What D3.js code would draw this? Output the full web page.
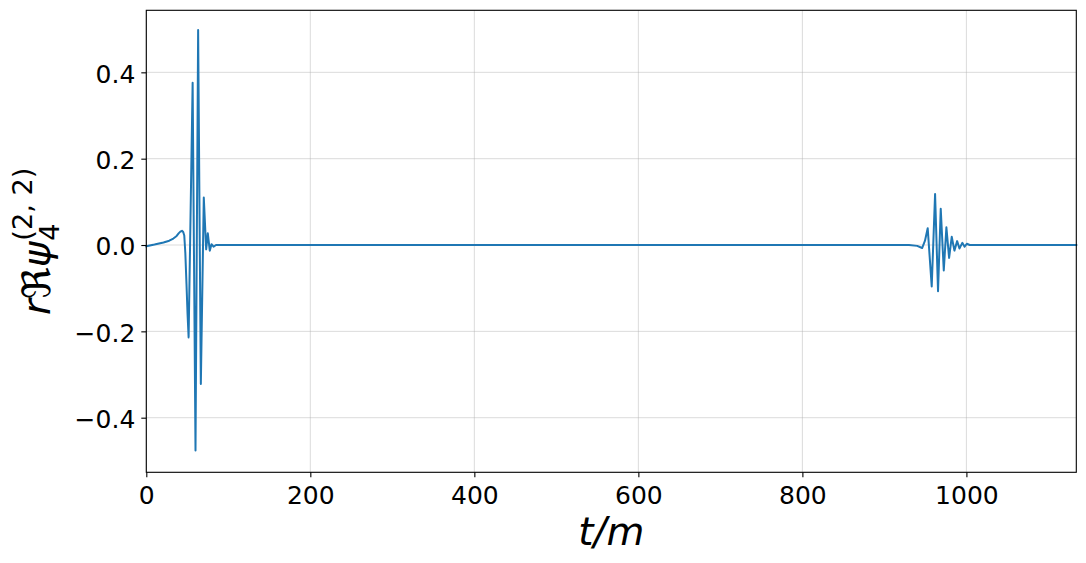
<!DOCTYPE html>
<html>
<head>
<meta charset="utf-8">
<script src="https://cdn.jsdelivr.net/npm/d3@7"></script>
<style>
  html, body { margin: 0; padding: 0; background: #fff; }
  svg { display: block; font-family: "DejaVu Sans", sans-serif; }
</style>
</head>
<body>
<svg id="chart" width="1086" height="563"></svg>
<script>
// ---- data ----
const timeValues = [0, 10, 21, 28, 33, 37, 39.4, 41.5, 43.5, 45, 46.3, 47.6, 49, 50.3, 51.6,
  56.5, 60, 63.2, 66.5, 70.1, 73, 75, 77.4, 79.5, 82, 85, 930, 940, 946, 949.5, 952.8,
  957.7, 961.8, 965.4, 968.7, 972.4, 975.6, 978.9, 982.1, 985.4, 988.7, 991.5, 995,
  997.8, 1000.5, 1004, 1134];
const psiValues = [-0.003, 0.001, 0.006, 0.010, 0.015, 0.021, 0.027, 0.031, 0.033, 0.030, 0.022, -0.019, -0.09, -0.16, -0.214,
  0.376, -0.476, 0.498, -0.322, 0.110, -0.010, 0.027, -0.013, 0.002, -0.004, 0.0, 0.0, -0.002, -0.007, 0.010, 0.039,
  -0.096, 0.118, -0.107, 0.084, -0.059, 0.041, -0.030, 0.019, -0.013, 0.009, -0.008, 0.005,
  -0.004, 0.003, 0.0, 0.0];
const xTicks = [0, 200, 400, 600, 800, 1000];
const yTicks = [-0.4, -0.2, 0.0, 0.2, 0.4];
const xDomain = [0, 1134];
const yDomain = [-0.5265, 0.5437];

(function () {
// ---- layout ----
const pL = 146.3, pR = 1076.3, pT = 10.3, pB = 472.3;
const svg = d3.select("#chart");
const x = d3.scaleLinear().domain(xDomain).range([pL, pR]);
const y = d3.scaleLinear().domain(yDomain).range([pB, pT]);

// grid
const grid = svg.append("g");
grid.selectAll("line.gx").data(xTicks).join("line")
  .attr("x1", d => x(d)).attr("x2", d => x(d)).attr("y1", pT).attr("y2", pB)
  .attr("stroke", "#b0b0b0").attr("stroke-opacity", 0.45).attr("stroke-width", 1);
grid.selectAll("line.gy").data(yTicks).join("line")
  .attr("y1", d => y(d)).attr("y2", d => y(d)).attr("x1", pL).attr("x2", pR)
  .attr("stroke", "#b0b0b0").attr("stroke-opacity", 0.45).attr("stroke-width", 1);

// line
const pts = timeValues.map((t, i) => [t, psiValues[i]]);
svg.append("path").datum(pts)
  .attr("fill", "none").attr("stroke", "#1f77b4").attr("stroke-width", 2)
  .attr("stroke-linejoin", "round").attr("stroke-linecap", "square")
  .attr("d", d3.line().x(d => x(d[0])).y(d => y(d[1])));

// axes
const fmtY = d => (d < 0 ? "\u2212" : "") + Math.abs(d).toFixed(1);
const xAxis = d3.axisBottom(x).tickValues(xTicks).tickSize(5).tickPadding(5).tickFormat(d3.format("d"));
const yAxis = d3.axisLeft(y).tickValues(yTicks).tickSize(5).tickPadding(6).tickFormat(fmtY);
const gx = svg.append("g").attr("transform", `translate(0,${pB})`).call(xAxis);
const gy = svg.append("g").attr("transform", `translate(${pL},0)`).call(yAxis);
[gx, gy].forEach(g => {
  g.select(".domain").remove();
  g.selectAll(".tick line").attr("stroke", "#000").attr("stroke-width", 1.1);
  g.selectAll(".tick text").attr("font-family", "DejaVu Sans").attr("font-size", 25).attr("fill", "#000");
});
gx.selectAll(".tick text").attr("dy", null).attr("y", 32);
gy.selectAll(".tick text").attr("dy", null).attr("y", 9.8);

// frame
svg.append("rect").attr("x", pL).attr("y", pT)
  .attr("width", pR - pL).attr("height", pB - pT)
  .attr("fill", "none").attr("stroke", "#000").attr("stroke-width", 1.1);

// x label
svg.append("text").attr("x", (pL + pR) / 2).attr("y", 545)
  .attr("text-anchor", "middle").attr("font-size", 38.9).attr("font-style", "italic")
  .attr("font-family", "DejaVu Sans").text("t/m");

// y label: r ℜ ψ with sub 4 and sup (2, 2)
const yl = svg.append("g");
const inner = yl.append("g");
const main = inner.append("text").attr("x", 0).attr("y", 0).attr("font-size", 38.9);
main.append("tspan").attr("font-style", "italic").text("r");
main.append("tspan").text("\u211C");
main.append("tspan").attr("font-style", "italic").text("\u03C8");
const w1 = main.node().getComputedTextLength();
const sub = inner.append("text").attr("x", w1 + 1).attr("y", 8.5).attr("font-size", 27.2).text("4");
const sup = inner.append("text").attr("x", w1 + 1).attr("y", -18).attr("font-size", 27.2).text("(2, 2)");
const total = w1 + 1 + Math.max(sub.node().getComputedTextLength(), sup.node().getComputedTextLength());
inner.attr("transform", `translate(${-total / 2},0)`);
yl.attr("transform", `translate(50,${(pT + pB) / 2}) rotate(-90)`);
})();
</script>
</body>
</html>
